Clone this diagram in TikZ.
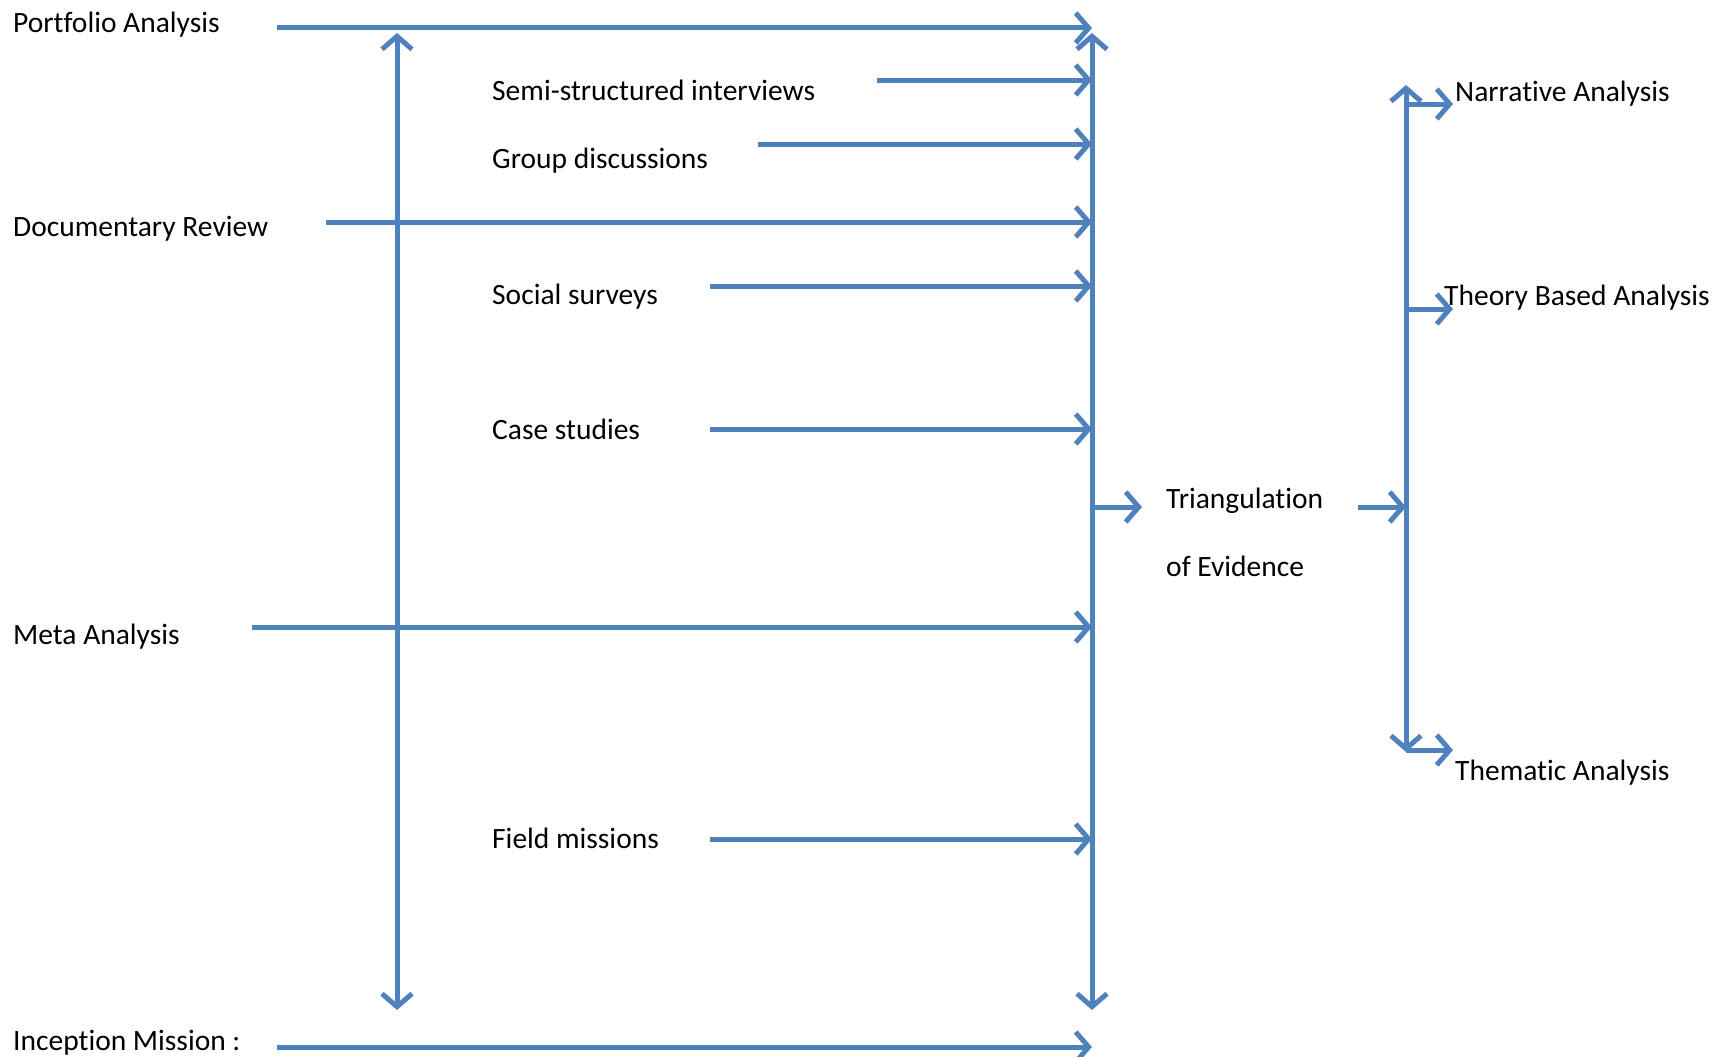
\documentclass[tikz,border=0pt]{standalone}
\usepackage{fontspec}
\setmainfont{Carlito}[Ligatures=NoCommon]
\usetikzlibrary{arrows.meta}
\definecolor{flowblue}{RGB}{79,129,189}

\begin{document}
\begin{tikzpicture}[x=1pt,y=-1pt,>={Straight Barb[length=13pt,width=30pt]},
  lbl/.style={anchor=base west,inner sep=0pt,font=\fontsize{29.5}{35}\selectfont},
  flow/.style={draw=flowblue,line width=5pt,->}]
  \useasboundingbox (0,0) rectangle (1713,1057);
  \coordinate (leftT) at (397,33);  \coordinate (leftB) at (397,1010);
  \coordinate (busT) at (1092,33);  \coordinate (busB) at (1092,1010);
  \coordinate (rbT) at (1406,85);   \coordinate (rbB) at (1406,752);
  \foreach \n/\tx/\ty/\ax/\ay/\lab in {pa/13/33/277/28/Portfolio Analysis,
      dr/13/236/326/222/Documentary Review, ma/13/644/252/627/Meta Analysis,
      im/13/1050/277/1047/Inception Mission :,
      si/492/100/877/80/Semi-structured interviews, gd/492/168/758/144/Group discussions,
      ss/492/304/710/286/Social surveys, cs/492/439/710/429/Case studies,
      fm/492/848/710/839/Field missions}{
    \node[lbl] (\n) at (\tx,\ty) {\lab};
    \coordinate (\n-a) at (\ax,\ay);
    \draw[flow] (\n-a) -- (\n-a -| busT);
  }
  \draw[flow,<->] (leftT) -- (leftB);
  \draw[flow,<->] (busT) -- (busB);
  \node[lbl] (tri) at (1166,508) {Triangulation};
  \node[lbl] (evid) at (1166,576) {of Evidence};
  \coordinate (tri-in) at (1142,507);
  \coordinate (tri-out) at (1358,507);
  \draw[flow] (tri-in -| busT) -- (tri-in);
  \draw[flow] (tri-out) -- (tri-out -| rbT);
  \draw[flow,<->] (rbT) -- (rbB);
  \foreach \n/\tx/\ty/\ay/\lab in {na/1455/101/104/Narrative Analysis,
      tb/1444/305/309/Theory Based Analysis, th/1455/780/750/Thematic Analysis}{
    \node[lbl] (\n) at (\tx,\ty) {\lab};
    \coordinate (\n-a) at (1453,\ay);
    \draw[flow] (\n-a -| rbT) -- (\n-a);
  }
\end{tikzpicture}
\end{document}
